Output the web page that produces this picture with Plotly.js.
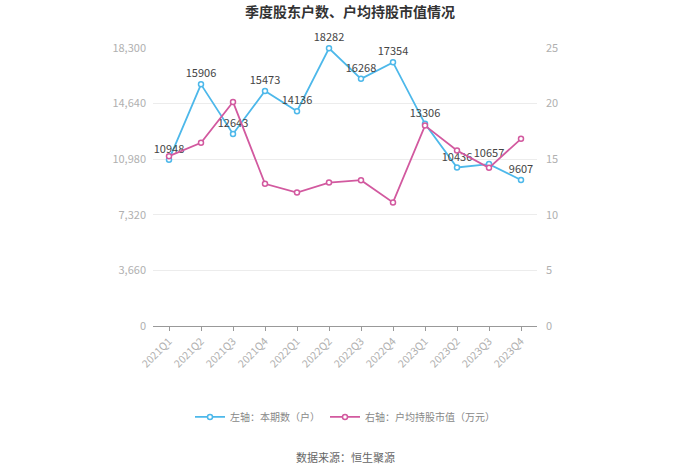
<!DOCTYPE html>
<html>
<head>
<meta charset="utf-8">
<script src="https://cdn.plot.ly/plotly-3.0.1.min.js"></script>
<style>html,body{margin:0;padding:0;background:#fff;}#chart{width:700px;height:474px;}</style>
</head>
<body>
<div id="chart"></div>
<script>
var categories = ['2021Q1','2021Q2','2021Q3','2021Q4','2022Q1','2022Q2','2022Q3','2022Q4','2023Q1','2023Q2','2023Q3','2023Q4'];
var holders = [10948,15906,12643,15473,14136,18282,16268,17354,13306,10436,10657,9607];
var avgValue = [15.27,16.47,20.15,12.79,12.0,12.9,13.11,11.11,18.02,15.78,14.22,16.83];
var leftTicks = [0,3660,7320,10980,14640,18300];
var rightTicks = [0,5,10,15,20,25];
var seriesNames = ['左轴：本期数（户）','右轴：户均持股市值（万元）'];
var titleText = '季度股东户数、户均持股市值情况';
var sourceText = '数据来源：恒生聚源';

var font = '"Microsoft YaHei","Noto Sans CJK SC",sans-serif';
var blue = '#4db8ea';
var pink = '#d2599f';

var traces = [
  {
    x: categories, y: holders, name: seriesNames[0], type: 'scatter',
    mode: 'lines+markers+text', text: holders.map(String), textposition: 'top center',
    textfont: {size: 11, color: '#444', family: font}, cliponaxis: false,
    line: {color: blue, width: 1.8},
    marker: {symbol: 'circle', size: 5, color: '#fff', line: {color: blue, width: 1.5}}
  },
  {
    x: categories, y: avgValue, name: seriesNames[1], type: 'scatter', yaxis: 'y2',
    mode: 'lines+markers', cliponaxis: false,
    line: {color: pink, width: 1.8},
    marker: {symbol: 'circle', size: 5, color: '#fff', line: {color: pink, width: 1.5}}
  }
];

var layout = {
  width: 700, height: 474,
  margin: {l: 153, r: 163, t: 48, b: 148},
  paper_bgcolor: '#fff', plot_bgcolor: '#fff',
  font: {family: font, color: '#999', size: 11},
  title: {text: titleText, x: 0.5, xanchor: 'center', y: 1 - 12/474, yanchor: 'middle', yref: 'container',
          font: {size: 14, color: '#333', family: font, weight: 'bold'}},
  showlegend: true,
  legend: {orientation: 'h', x: 0.5, xanchor: 'center', y: -0.327, yanchor: 'middle',
           font: {size: 10, color: '#888', family: font}, itemwidth: 30},
  xaxis: {
    type: 'category', range: [-0.5, 11.5], tickangle: -45,
    showgrid: false, showline: true, linecolor: '#999', linewidth: 1,
    ticks: 'outside', ticklen: 4, tickcolor: '#999',
    tickfont: {size: 10.5, color: '#b0b0b0'}, fixedrange: true
  },
  yaxis: {
    range: [0, 18300], tickvals: leftTicks, ticktext: leftTicks.map(function(v){return v.toLocaleString('en-US');}),
    showgrid: true, gridcolor: '#ececec', zeroline: false, showline: false,
    tickfont: {size: 11, color: '#b0b0b0'}, ticks: '', ticklabelstandoff: 6
  },
  yaxis2: {
    range: [0, 25], tickvals: rightTicks, overlaying: 'y', side: 'right',
    showgrid: false, zeroline: false, showline: false,
    tickfont: {size: 11, color: '#b0b0b0'}, ticks: '', ticklabelstandoff: 8
  },
  annotations: [
    {text: sourceText, xref: 'paper', yref: 'paper', x: 0.5, y: -0.471, xanchor: 'center', yanchor: 'middle',
     showarrow: false, font: {size: 11, color: '#666', family: font}}
  ]
};

Plotly.newPlot('chart', traces, layout, {displayModeBar: false, staticPlot: true});
</script>
</body>
</html>
